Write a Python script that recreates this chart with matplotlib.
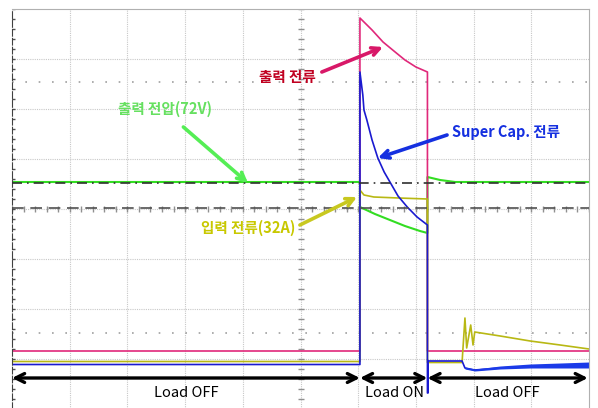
import numpy as np
import matplotlib
matplotlib.use('Agg')
from matplotlib import pyplot as plt

plt.rcParams['font.family'] = ['Noto Sans CJK KR', 'DejaVu Sans']

# all positions in scope divisions (10 x 8)
t_on = 6.03
t_off = 7.20

# output current (pink)
pink_t = [0, t_on, t_on, 6.24, 6.43, 6.64, 6.81, 7.00, t_off, t_off, 10]
pink_v = [1.16, 1.16, 7.82, 7.58, 7.34, 7.14, 6.98, 6.84, 6.74, 1.16, 1.16]

# super cap current (blue)
blue_t = [0, t_on, t_on, 6.08, 6.10, 6.15, 6.24, 6.34, 6.45, 6.55, 6.69, 6.85, 7.02, t_off,
          t_off, 7.21, 7.21, 7.80, 7.85, 8.02, 8.46, 8.98, 9.50, 10]
blue_v = [0.89, 0.89, 6.74, 6.28, 5.98, 5.78, 5.38, 5.02, 4.74, 4.54, 4.26, 4.04, 3.84, 3.68,
          0.32, 0.32, 0.96, 0.96, 0.82, 0.78, 0.82, 0.85, 0.86, 0.88]
# noise band on the blue trace after load off
band_t = [7.85, 8.02, 8.46, 8.98, 9.50, 10]
band_lo = [0.80, 0.76, 0.80, 0.82, 0.82, 0.82]
band_hi = [0.84, 0.80, 0.86, 0.90, 0.92, 0.94]

# input current (yellow)
yel_t = [0, t_on, t_on, 6.10, 6.27, 6.70, t_off, t_off, 7.80, 7.85, 7.88, 7.95, 7.99, 8.02,
         8.46, 8.98, 9.50, 10]
yel_v = [0.95, 0.95, 4.38, 4.28, 4.24, 4.22, 4.20, 0.93, 0.93, 1.82, 1.22, 1.68, 1.28, 1.54,
         1.46, 1.36, 1.28, 1.20]

# output voltage (green)
grn_t = [0, t_on, t_on, 6.29, 6.55, 6.81, 7.07, t_off, t_off, 7.42, 7.68, 10]
grn_v = [4.54, 4.54, 4.04, 3.90, 3.78, 3.66, 3.56, 3.52, 4.64, 4.58, 4.54, 4.54]

fig = plt.figure(figsize=(5.98, 4.08), dpi=100)
ax = fig.add_axes([12 / 598, -1 / 408, 577 / 598, 400 / 408])
ax.set_xlim(0, 10)
ax.set_ylim(0, 8)
ax.set_xticks([])
ax.set_yticks([])

# graticule
for gx in range(1, 10):
    ax.axvline(gx, color='#c8c8c8', lw=0.8, ls=(0, (1, 1)), zorder=0)
for gy in range(1, 8):
    ax.axhline(gy, color='#c8c8c8', lw=0.8, ls=(0, (1, 1)), zorder=0)
for gy in [6.54, 1.52]:
    ax.axhline(gy, color='#a0a0a0', lw=1.2, ls=(0, (1, 7)), zorder=0)
minor = np.arange(0, 10.01, 0.2)
ax.plot(minor, np.full(len(minor), 4.0), ls='none', marker='|', ms=4, color='#909090', zorder=0)
vminor = np.arange(0, 8.01, 0.2)
ax.plot(np.full(len(vminor), 5.0), vminor, ls='none', marker='_', ms=4, color='#909090', zorder=0)
ax.plot(np.full(len(vminor), 0.0), vminor, ls='none', marker='_', ms=4, color='#505050', zorder=0)

for s in ['top', 'right']:
    ax.spines[s].set_color('#b0b0b0')
ax.spines['left'].set_color('#404040')
ax.spines['left'].set_linestyle((0, (6, 2)))
ax.spines['bottom'].set_visible(False)

# reference markers
ax.axhline(4.53, color='#303030', lw=1.2, ls=(0, (6, 3, 1, 3)), zorder=3)
ax.axhline(4.02, color='#505050', lw=1.2, ls=(0, (7, 4)), zorder=3)

ax.plot(grn_t, grn_v, color='#33dd22', lw=1.5, zorder=2)
ax.plot(pink_t, pink_v, color='#e0287a', lw=1.2, zorder=2)
ax.plot(yel_t, yel_v, color='#b8b814', lw=1.2, zorder=2)
ax.plot(blue_t, blue_v, color='#1a1ad0', lw=1.2, zorder=2)
ax.fill_between(band_t, band_lo, band_hi, color='#1a3ae8', lw=0, zorder=2)

# labels with arrows
def label(text, xy, xytext, tcolor, acolor, tpos):
    ax.annotate('', xy=xy, xytext=xytext,
                arrowprops=dict(arrowstyle='->', color=acolor, lw=2.6,
                                mutation_scale=14, shrinkA=0, shrinkB=0), zorder=5)
    ax.text(tpos[0], tpos[1], text, color=tcolor, fontsize=10.5, fontweight='bold',
            ha='center', va='center', zorder=5)

label('출력 전류', (6.43, 7.24), (5.37, 6.74), '#c00020', '#d81868', (4.77, 6.64))
label('출력 전압(72V)', (4.09, 4.52), (2.97, 5.64), '#66e060', '#55ee55', (2.65, 6.00))
label('Super Cap. 전류', (6.34, 5.02), (7.54, 5.48), '#1530e0', '#1530e0', (8.57, 5.54))
label('입력 전류(32A)', (5.98, 4.24), (4.99, 3.68), '#c8c800', '#c8c820', (4.09, 3.62))

# load state arrows
for a, b, name in [(0, t_on, 'Load OFF'), (t_on, t_off, 'Load ON'), (t_off, 9.98, 'Load OFF')]:
    ax.annotate('', xy=(a, 0.62), xytext=(b, 0.62),
                arrowprops=dict(arrowstyle='<->', color='black', lw=2.4,
                                mutation_scale=16, shrinkA=0, shrinkB=0), zorder=5)
    ax.text((a + b) / 2 if name != 'Load ON' else (a + b) / 2 + 0.02, 0.32, name,
            fontsize=10.5, ha='center', va='center', color='black', zorder=5)

fig.savefig('out.png', dpi=100)
